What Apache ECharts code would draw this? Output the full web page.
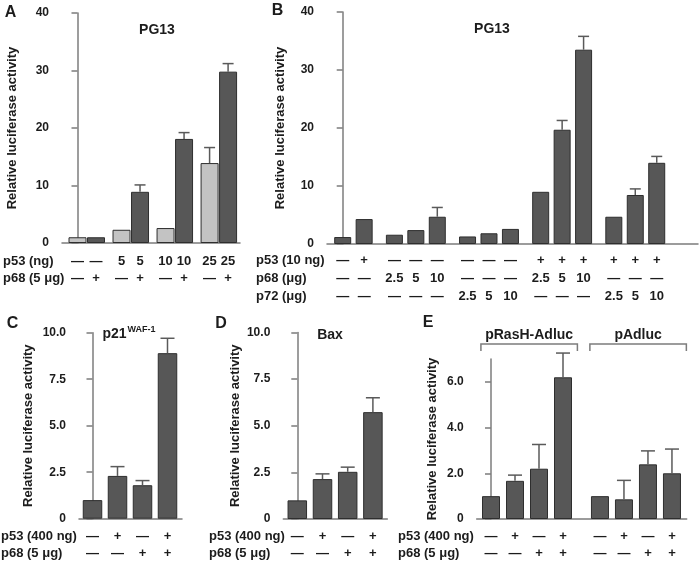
<!DOCTYPE html>
<html>
<head>
<meta charset="utf-8">
<script src="https://cdn.jsdelivr.net/npm/echarts@6/dist/echarts.min.js"></script>
<style>
  html, body { margin: 0; background: #fff; }
  #chart { width: 700px; height: 565px; }
</style>
</head>
<body>
<div id="chart"></div>
<script>
// ---- panel A: PG13, p53 titration with / without p68 ----
const aRowNames = ['p53 (ng)', 'p68 (5 μg)'];
const aP53 = ['—', '—', '5', '5', '10', '10', '25', '25'];
const aP68 = ['—', '+', '—', '+', '—', '+', '—', '+'];
const aValues = [1.0, 1.0, 2.3, 8.9, 2.6, 18.1, 13.9, 29.8];
const aErrors = [null, null, null, 10.1, null, 19.2, 16.6, 31.2];
const aTicks = [0, 10, 20, 30, 40];

// ---- panel B: PG13, p68 vs p72 ----
const bRowNames = ['p53 (10 ng)', 'p68 (μg)', 'p72 (μg)'];
const bP53 = ['—', '+', '—', '—', '—', '—', '—', '—', '+', '+', '+', '+', '+', '+'];
const bP68 = ['—', '—', '2.5', '5', '10', '—', '—', '—', '2.5', '5', '10', '—', '—', '—'];
const bP72 = ['—', '—', '—', '—', '—', '2.5', '5', '10', '—', '—', '—', '2.5', '5', '10'];
const bValues = [1.2, 4.3, 1.6, 2.4, 4.7, 1.3, 1.85, 2.6, 9.0, 19.7, 33.5, 4.7, 8.45, 14.0];
const bErrors = [null, null, null, null, 6.3, null, null, null, null, 21.3, 35.8, null, 9.5, 15.1];
const bTicks = [0, 10, 20, 30, 40];

// ---- panels C, D, E share the same treatment rows ----
const cdeRowNames = ['p53 (400 ng)', 'p68 (5 μg)'];
const cdP53 = ['—', '+', '—', '+'];
const cdP68 = ['—', '—', '+', '+'];
const cdTicks = [0, 2.5, 5, 7.5, 10];

const cValues = [1.0, 2.3, 1.8, 8.9];   // p21 WAF-1
const cErrors = [null, 2.8, 2.05, 9.7];

const dValues = [1.0, 2.14, 2.53, 5.73]; // Bax
const dErrors = [null, 2.42, 2.78, 6.5];

const eBrackets = ['pRasH-Adluc', 'pAdluc'];
const eP53 = ['—', '+', '—', '+', '—', '+', '—', '+'];
const eP68 = ['—', '—', '+', '+', '—', '—', '+', '+'];
const eValues = [1.0, 1.67, 2.2, 6.2, 1.0, 0.86, 2.39, 2.0];
const eErrors = [null, 1.92, 3.26, 7.26, null, 1.69, 2.98, 3.06];
const eTicks = [0, 2, 4, 6];

const DARK = '#575757', LIGHT = '#c3c3c3', EDGE = '#2e2e2e';
const AXIS = '#7c7c7c', WHISKER = '#5a5a5a', INK = '#1c1c1c';
const FAMILY = '"Liberation Sans", Arial, Helvetica, sans-serif';
const txt = (size) => ({ color: INK, fontSize: size, fontWeight: 'bold', fontFamily: FAMILY });
const intFmt = (v) => String(v);
const decFmt = (v) => (v === 0 ? '0' : v.toFixed(1));

const panels = [
  { letter: 'A', letterAt: [10.5, 13], title: 'PG13', titleAt: [157, 30],
    grid: { left: 62, top: 13, width: 178, height: 230 },
    first: 77.5, pitch: 18.5, groups: [2, 2, 2, 2], gap: 0.38, barW: 18, cap: 11,
    yMax: 40, ticks: aTicks, fmt: intFmt, nameGap: 43,
    values: aValues, errors: aErrors, rows: [aP53, aP68], rowNames: aRowNames,
    shade: (i) => (aP68[i] === '+' ? DARK : LIGHT),
    rowX: 3, lh: 17, margin: 10 },
  { letter: 'B', letterAt: [277.5, 11], title: 'PG13', titleAt: [492, 29],
    grid: { left: 327, top: 12, width: 371, height: 232 },
    first: 342.7, pitch: 21.45, groups: [2, 3, 3, 3, 3], gap: 0.41, barW: 17, cap: 11,
    yMax: 40, ticks: bTicks, fmt: intFmt, nameGap: 40,
    values: bValues, errors: bErrors, rows: [bP53, bP68, bP72], rowNames: bRowNames,
    shade: () => DARK, rowX: 256, lh: 18, margin: 7 },
  { letter: 'C', letterAt: [12.5, 324], title: '{m|p21}{s|WAF-1}', titleAt: [129, 334],
    grid: { left: 79, top: 332.7, width: 103, height: 186 },
    first: 92.5, pitch: 25, groups: [4], gap: 0, barW: 19.5, cap: 14,
    yMax: 10, ticks: cdTicks, fmt: decFmt, nameGap: 44,
    values: cValues, errors: cErrors, rows: [cdP53, cdP68], rowNames: cdeRowNames,
    shade: () => DARK, rowX: 1, lh: 17, margin: 9 },
  { letter: 'D', letterAt: [221, 324], title: 'Bax', titleAt: [330, 335],
    grid: { left: 283.3, top: 332.5, width: 104, height: 186.5 },
    first: 297.3, pitch: 25.2, groups: [4], gap: 0, barW: 19.5, cap: 14,
    yMax: 10, ticks: cdTicks, fmt: decFmt, nameGap: 41,
    values: dValues, errors: dErrors, rows: [cdP53, cdP68], rowNames: cdeRowNames,
    shade: () => DARK, rowX: 209, lh: 17, margin: 9 },
  { letter: 'E', letterAt: [428, 323], title: null,
    grid: { left: 476.7, top: 359, width: 210, height: 160 },
    first: 491, pitch: 24, groups: [4, 4], gap: 0.54, barW: 18, cap: 14,
    yMax: 7, ticks: eTicks, fmt: decFmt, nameGap: 38,
    values: eValues, errors: eErrors, rows: [eP53, eP68], rowNames: cdeRowNames,
    shade: () => DARK, rowX: 398, lh: 17, margin: 9, brackets: eBrackets }
];

function barPositions(groups, gap) {
  const out = [];
  let i = 0;
  groups.forEach((n, g) => {
    for (let k = 0; k < n; k++) { out.push(i + g * gap); i++; }
  });
  return out;
}

const option = {
  animation: false,
  backgroundColor: '#fff',
  grid: [], xAxis: [], yAxis: [], series: [], title: [], graphic: []
};

panels.forEach((p, k) => {
  const pos = barPositions(p.groups, p.gap);
  const g = p.grid;
  const xMin = -(p.first - g.left) / p.pitch;
  const xMax = (g.left + g.width - p.first) / p.pitch;
  const lineStyle = { color: AXIS, width: 1.5 };

  option.grid.push(Object.assign({ outerBoundsMode: 'none' }, g));

  option.xAxis.push({
    type: 'value', gridIndex: k, min: xMin, max: xMax,
    axisLine: { show: true, onZero: false, lineStyle },
    axisTick: { show: false },
    splitLine: { show: false },
    axisLabel: Object.assign({
      customValues: pos,
      margin: p.margin, lineHeight: p.lh,
      formatter: (v) => {
        const i = pos.findIndex((q) => Math.abs(q - v) < 1e-6);
        return p.rows.map((r) => r[i]).join('\n');
      }
    }, txt(13))
  });

  option.yAxis.push({
    type: 'value', gridIndex: k, min: 0, max: p.yMax,
    name: 'Relative luciferase activity', nameLocation: 'middle', nameGap: p.nameGap,
    nameTextStyle: txt(13),
    axisLine: { show: true, lineStyle },
    axisTick: { show: true, length: 6, customValues: p.ticks, lineStyle },
    splitLine: { show: false },
    axisLabel: Object.assign({ customValues: p.ticks, formatter: p.fmt, margin: 13 }, txt(12))
  });

  option.series.push({
    type: 'bar', xAxisIndex: k, yAxisIndex: k, barWidth: p.barW,
    itemStyle: { borderColor: EDGE, borderWidth: 1 },
    data: p.values.map((v, i) => ({ value: [pos[i], v], itemStyle: { color: p.shade(i) } }))
  });

  // upper error whiskers
  option.series.push({
    type: 'custom', xAxisIndex: k, yAxisIndex: k, z: 3, silent: true,
    data: p.errors.map((e, i) => (e == null ? null : [pos[i], p.values[i], e])).filter(Boolean),
    renderItem: (params, api) => {
      const top = api.coord([api.value(0), api.value(1)]);
      const end = api.coord([api.value(0), api.value(2)]);
      const style = { stroke: WHISKER, lineWidth: 1.5 };
      return {
        type: 'group',
        children: [
          { type: 'line', shape: { x1: top[0], y1: top[1], x2: end[0], y2: end[1] }, style },
          { type: 'line', shape: { x1: end[0] - p.cap / 2, y1: end[1], x2: end[0] + p.cap / 2, y2: end[1] }, style }
        ]
      };
    }
  });

  // reporter brackets above panel E
  if (p.brackets) {
    let start = 0;
    const spans = p.groups.map((n) => { const s = [pos[start], pos[start + n - 1]]; start += n; return s; });
    option.series.push({
      type: 'custom', xAxisIndex: k, yAxisIndex: k, silent: true,
      data: spans,
      renderItem: (params, api) => {
        const a = api.coord([api.value(0) - 0.42, p.yMax]);
        const b = api.coord([api.value(1) + 0.6, p.yMax]);
        const y = a[1] - 15, leg = a[1] - 8;
        return {
          type: 'group',
          children: [
            { type: 'polyline', shape: { points: [[a[0], leg], [a[0], y], [b[0], y], [b[0], leg]] },
              style: { stroke: AXIS, lineWidth: 1.5, fill: null } },
            { type: 'text', x: (a[0] + b[0]) / 2, y: y - 9,
              style: { text: p.brackets[params.dataIndex], fill: INK, fontSize: 14, fontWeight: 'bold',
                       fontFamily: FAMILY, align: 'center', verticalAlign: 'middle' } }
          ]
        };
      }
    });
  }

  if (p.title) {
    option.title.push({
      text: p.title, left: p.titleAt[0], top: p.titleAt[1], padding: 0,
      textAlign: 'center', textVerticalAlign: 'middle',
      textStyle: Object.assign(txt(14), {
        rich: {
          m: { fontSize: 14, fontWeight: 'bold', fontFamily: FAMILY, color: INK, lineHeight: 18 },
          s: { fontSize: 9, fontWeight: 'bold', fontFamily: FAMILY, color: INK, lineHeight: 10,
               verticalAlign: 'top', padding: [0, 0, 0, 1] }
        }
      })
    });
  }

  option.graphic.push({
    type: 'text', x: p.letterAt[0], y: p.letterAt[1],
    style: { text: p.letter, fill: INK, font: 'bold 16px ' + FAMILY,
             textAlign: 'center', textVerticalAlign: 'middle', align: 'center', verticalAlign: 'middle' }
  });

  const bottom = g.top + g.height;
  p.rowNames.forEach((name, r) => {
    option.graphic.push({
      type: 'text', x: p.rowX, y: bottom + p.margin + p.lh * (r + 0.5),
      style: { text: name, fill: INK, font: 'bold 13px ' + FAMILY,
               textAlign: 'left', textVerticalAlign: 'middle', align: 'left', verticalAlign: 'middle' }
    });
  });
});

const chart = echarts.init(document.getElementById('chart'), null, { renderer: 'canvas' });
chart.setOption(option);
</script>
</body>
</html>
